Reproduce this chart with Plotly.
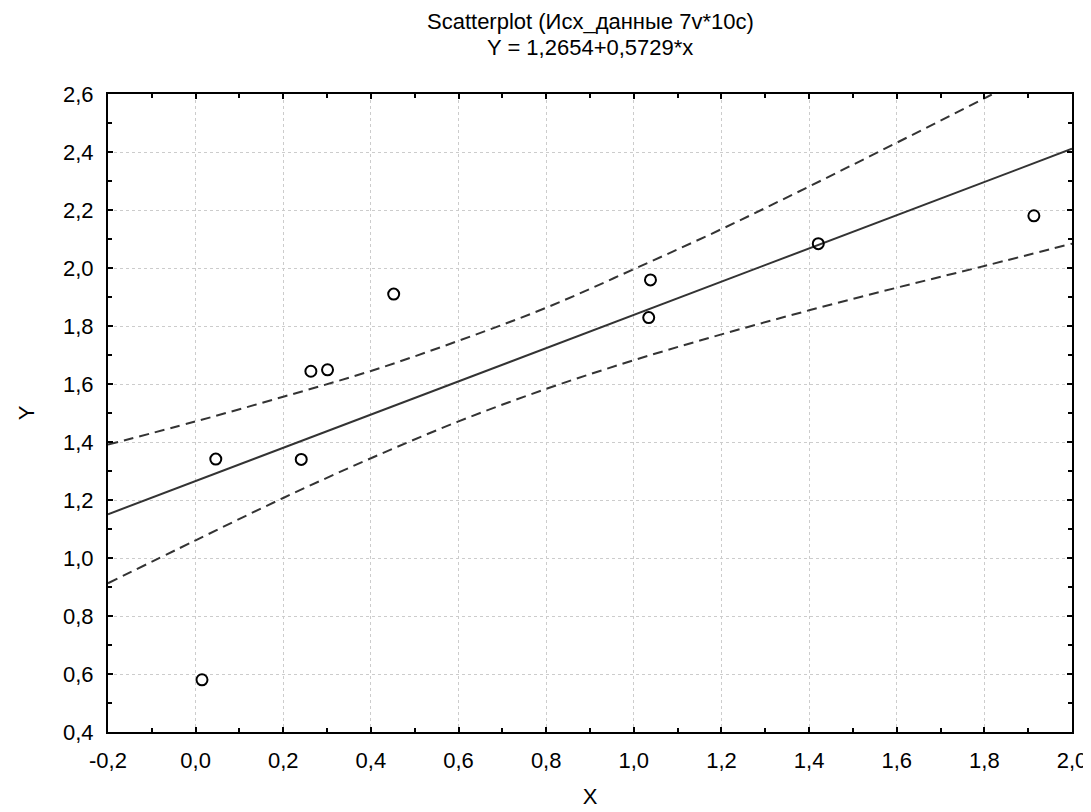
import plotly.graph_objects as go

# Data points
x_vals = [0.0145, 0.046, 0.241, 0.263, 0.301, 0.452, 1.034, 1.038, 1.421, 1.913]
y_vals = [0.580, 1.341, 1.340, 1.644, 1.649, 1.910, 1.829, 1.959, 2.084, 2.180]

# Regression coefficients (from the title)
intercept = 1.2654
slope = 0.5729
line_x = [-0.2, 2.0]

# Confidence band
band_x = [-0.2, 0.0, 0.2, 0.4, 0.6, 0.8, 1.0, 1.2, 1.4, 1.6, 1.8, 2.0]
band_upper = [1.391, 1.471, 1.556, 1.645, 1.749, 1.863, 1.996, 2.134, 2.281, 2.432, 2.585, 2.740]
band_lower = [0.913, 1.061, 1.207, 1.344, 1.471, 1.583, 1.682, 1.771, 1.854, 1.932, 2.007, 2.084]

# Tick labels
x_ticks = [-0.2, 0.0, 0.2, 0.4, 0.6, 0.8, 1.0, 1.2, 1.4, 1.6, 1.8, 2.0]
x_ticktext = ["-0,2", "0,0", "0,2", "0,4", "0,6", "0,8", "1,0", "1,2", "1,4", "1,6", "1,8", "2,0"]
y_ticks = [0.4, 0.6, 0.8, 1.0, 1.2, 1.4, 1.6, 1.8, 2.0, 2.2, 2.4, 2.6]
y_ticktext = ["0,4", "0,6", "0,8", "1,0", "1,2", "1,4", "1,6", "1,8", "2,0", "2,2", "2,4", "2,6"]

title1 = "Scatterplot (Исх_данные 7v*10c)"
title2 = "Y = 1,2654+0,5729*x"

line_y = [intercept + slope * v for v in line_x]

FONT = "Liberation Sans, Arial, sans-serif"
FS = 22

fig = go.Figure()
fig.add_trace(go.Scatter(x=band_x, y=band_upper, mode="lines", line_shape="spline",
                         line=dict(color="#333333", width=2, dash="10px,6px"),
                         hoverinfo="skip", showlegend=False))
fig.add_trace(go.Scatter(x=band_x, y=band_lower, mode="lines", line_shape="spline",
                         line=dict(color="#333333", width=2, dash="10px,6px"),
                         hoverinfo="skip", showlegend=False))
fig.add_trace(go.Scatter(x=line_x, y=line_y, mode="lines",
                         line=dict(color="#333333", width=2),
                         showlegend=False))
fig.add_trace(go.Scatter(x=x_vals, y=y_vals, mode="markers",
                         marker=dict(symbol="circle-open", size=11, color="black",
                                     line=dict(width=2, color="black")),
                         cliponaxis=False, showlegend=False))

axis_common = dict(
    showline=True, linecolor="black", linewidth=2, mirror="allticks",
    ticks="inside", ticklen=5, tickwidth=2, tickcolor="black",
    showgrid=True, gridcolor="#cccccc", griddash="dot", gridwidth=1,
    zeroline=False,
    tickfont=dict(family=FONT, size=FS, color="black"),
    minor=dict(ticks="inside", ticklen=4, tickwidth=2, tickcolor="black", showgrid=False),
)

fig.update_xaxes(range=[-0.2, 2.0], tickvals=x_ticks, ticktext=x_ticktext,
                 title=dict(text="X", font=dict(family=FONT, size=FS, color="black"), standoff=16),
                 ticklabelstandoff=8, minor_dtick=0.1, **axis_common)
fig.update_yaxes(range=[0.4, 2.6], tickvals=y_ticks, ticktext=y_ticktext,
                 title=dict(text="Y", font=dict(family=FONT, size=FS, color="black"), standoff=22),
                 ticklabelstandoff=8, minor_dtick=0.1, **axis_common)

fig.update_layout(
    width=1091, height=812,
    margin=dict(l=100, r=24, t=86, b=88),
    plot_bgcolor="white", paper_bgcolor="white",
    font=dict(family=FONT, size=FS, color="black"),
    annotations=[
        dict(text=title1, xref="paper", yref="paper", x=0.5, y=1, yshift=73,
             showarrow=False, yanchor="middle", font=dict(family=FONT, size=FS, color="black")),
        dict(text=title2, xref="paper", yref="paper", x=0.5, y=1, yshift=47,
             showarrow=False, yanchor="middle", font=dict(family=FONT, size=FS, color="black")),
    ],
)

fig.write_html("out.html")
